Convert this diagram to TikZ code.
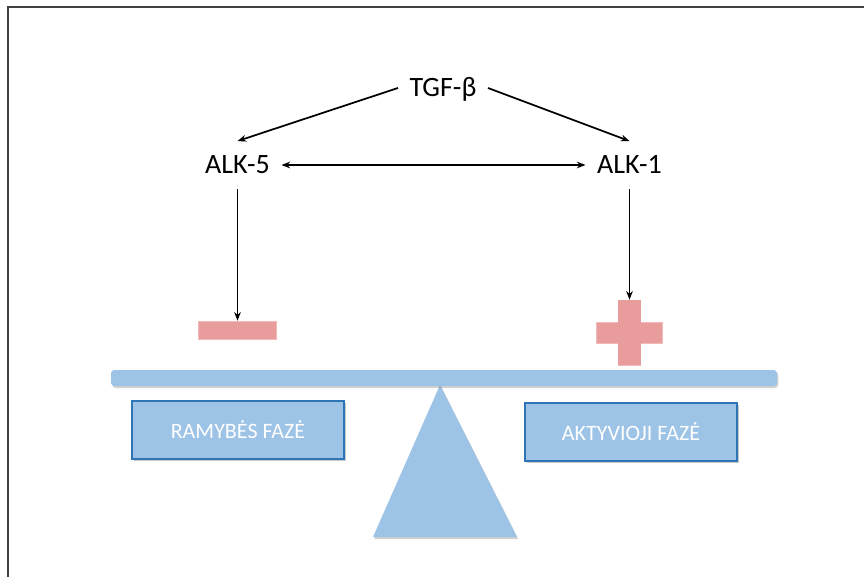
\documentclass[tikz,border=0pt]{standalone}
\usepackage{fontspec}
\setmainfont{Carlito}
\usetikzlibrary{arrows.meta,shadows}
\definecolor{beamblue}{HTML}{9DC3E6}
\definecolor{boxedge}{HTML}{2E75B6}
\definecolor{pinkfill}{HTML}{E99C9C}
\definecolor{frameline}{HTML}{404040}
\tikzset{
  lbl/.style={font=\fontsize{21}{24}\selectfont, text height=13.5pt, text depth=0pt,
              inner xsep=8.5pt, inner ysep=11pt},
  arr/.style={-{Stealth[length=6.5pt,width=5pt]}, line width=1.3pt, black},
  darr/.style={{Stealth[length=6.5pt,width=5pt]}-{Stealth[length=6.5pt,width=5pt]}, line width=1.3pt, black},
  phase/.style={draw=boxedge, line width=1.1pt, fill=beamblue, text=white,
                font=\fontsize{16.5}{18}\selectfont, minimum width=159pt, minimum height=43.5pt,
                drop shadow={shadow xshift=1.5pt, shadow yshift=-1.8pt, opacity=0.35, fill=black!60}},
  sign/.style={fill=pinkfill, draw=pinkfill!70!white, line width=0.4pt, inner sep=0pt},
  shad/.style={drop shadow={shadow xshift=1pt, shadow yshift=-1.5pt, opacity=0.3, fill=black!60}}
}
\begin{document}
\begin{tikzpicture}[x=0.75pt,y=-0.75pt]
\useasboundingbox (0,0) rectangle (864,577);
% frame
\draw[frameline, line width=1.1pt] (8,577) -- (8,7) -- (864,7);
% labels
\node[lbl] (tgf) at (443,88) {TGF-β};
\node[lbl] (alk5) at (237.5,165) {ALK-5};
\node[lbl] (alk1) at (629.5,165) {ALK-1};
% signs
\node[sign, minimum width=58.5pt, minimum height=13.5pt] (minus) at (237.5,330) {};
\node[sign, minimum width=16.5pt, minimum height=48.75pt] (plusv) at (629.5,332.5) {};
\node[sign, minimum width=49.5pt, minimum height=15.75pt] (plush) at (629.5,332.5) {};
\fill[pinkfill] (plusv.north west) rectangle (plusv.south east);
% arrows
\draw[arr] (tgf.west) -- (alk5.north);
\draw[arr] (tgf.east) -- (alk1.north);
\draw[darr] (alk5.east) -- (alk1.west);
\draw[arr] (alk5.south) -- (minus.north);
\draw[arr] (alk1.south) -- (plusv.north);
% seesaw
\fill[beamblue, shad] (440,385) -- (373,537) -- (517,537) -- cycle;
\node[fill=beamblue, rounded corners=2.5pt, minimum width=499.5pt, minimum height=12pt, inner sep=0pt, shad] (beam) at (444,378) {};
\node[phase] (rest) at (238,430) {RAMYBĖS FAZĖ};
\node[phase] (active) at (631,432) {AKTYVIOJI FAZĖ};
\end{tikzpicture}
\end{document}
